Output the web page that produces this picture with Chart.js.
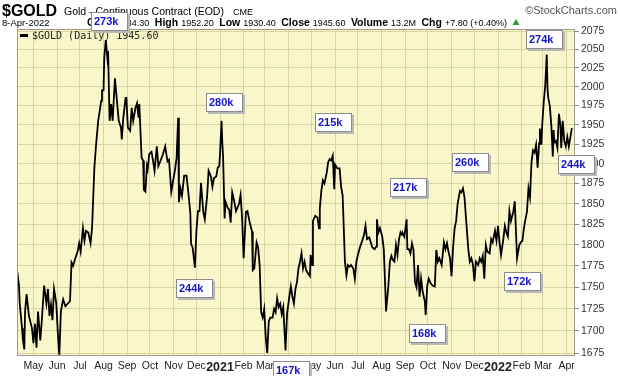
<!DOCTYPE html>
<html>
<head>
<meta charset="utf-8">
<script src="https://cdn.jsdelivr.net/npm/chart.js@4.4.0/dist/chart.umd.min.js"></script>
<style>
  html, body { margin: 0; padding: 0; background: #fff; }
  canvas { display: block; }
</style>
</head>
<body>
<canvas id="goldChart" width="620" height="376" style="width:620px;height:376px"></canvas>
<script>
// days since 1-Apr-2020 and daily close of gold futures
const tradeDays = [
  9, 11, 12, 15, 16, 18, 19, 21, 24, 28, 30, 32, 34, 36, 39, 41, 44, 47, 49, 51, 53, 55, 57, 60, 62, 64, 66, 69, 72, 76, 78,
  80, 82, 85, 88, 90, 92, 95, 97, 99, 102, 105, 107, 110, 112, 115, 119, 120, 122, 123, 125, 127, 128,
  130, 132, 134, 137, 140, 142, 145, 146, 148, 151, 152, 154, 157, 159, 161, 164, 166, 168, 169, 172, 174, 175, 177, 179,
  180, 182, 185, 187, 189, 192, 194, 197, 200, 203, 206, 208, 211, 214, 216, 218, 220, 221, 223, 225, 228, 231, 234, 236,
  237, 239, 242, 244, 246, 248, 250, 253, 255,
  258, 260, 263, 265, 267, 270, 272, 274, 275, 277, 278, 279, 281, 282, 285, 287, 289, 291, 293, 296, 300, 302, 304, 306,
  309, 311, 314, 317, 318, 320, 323, 325, 327, 329, 331, 333, 335, 337, 339, 341, 344, 346, 348, 350, 352, 354, 356, 358,
  361, 363, 366, 368, 370, 372, 374, 376, 378,
  380, 382, 384, 386, 388, 390, 393, 394, 396, 397, 400, 403, 405, 406, 408, 410, 412, 415, 417, 419, 421, 423, 425, 426,
  429, 432, 434, 436, 439, 441, 443, 445, 447, 450, 452, 454, 456, 459, 461, 464, 466, 468, 471, 473, 475, 478, 480, 481,
  483, 485, 488, 490, 492, 493, 496, 498, 500,
  502, 504, 506, 508, 510, 512, 514, 515, 517, 520, 521, 523, 525, 527, 529, 531, 533, 535, 537, 539, 541, 544, 545, 547,
  549, 552, 554, 557, 559, 561, 563, 566, 569, 571, 573, 575, 577, 579, 581, 583, 585, 587, 590, 592, 594, 596, 598, 601,
  603, 605, 607, 609, 611, 614, 616, 618, 620, 622, 624, 626, 629,
  631, 633, 636, 638, 640, 642, 644, 647, 649, 651, 653, 655, 657, 660, 662, 664, 665, 668, 670, 672, 674, 676, 678, 680,
  682, 684, 686, 688, 690, 692, 694, 695, 697, 698, 700, 702, 704, 705, 706, 708, 710, 712, 713, 714, 716, 718, 720, 722,
  723, 725, 727, 729, 731, 733, 735, 737
];
const closes = [
  1767, 1752, 1731, 1703, 1691, 1679, 1722, 1742, 1717, 1703, 1686, 1708, 1681, 1722, 1689, 1712, 1752, 1731, 1748, 1717, 1730, 1712, 1748, 1731, 1698, 1673, 1722, 1736, 1728, 1732, 1734,
  1779, 1775, 1784, 1792, 1802, 1792, 1820, 1805, 1817, 1815, 1802, 1821, 1895, 1921, 1955, 1981, 1995, 1995, 2039, 2063, 2039, 2048,
  1955, 1977, 1955, 2011, 1977, 1955, 1946, 1931, 1959, 1985, 1985, 1946, 1942, 1972, 1955, 1972, 1978, 1959, 1977, 1908, 1904, 1867, 1865, 1897,
  1893, 1912, 1915, 1904, 1891, 1922, 1897, 1904, 1912, 1922, 1903, 1905, 1865, 1882, 1893, 1908, 1959, 1852, 1869, 1860, 1885, 1885, 1858, 1838,
  1801, 1797, 1773, 1817, 1841, 1841, 1876, 1840, 1831,
  1859, 1891, 1884, 1871, 1882, 1884, 1895, 1897, 1913, 1955, 1926, 1909, 1832, 1853, 1845, 1843, 1827, 1864, 1856, 1841, 1850, 1861, 1832, 1784,
  1840, 1841, 1827, 1816, 1770, 1772, 1803, 1797, 1776, 1721, 1715, 1725, 1693, 1675, 1711, 1715, 1715, 1725, 1721, 1737, 1727, 1731, 1719, 1727,
  1678, 1719, 1739, 1751, 1739, 1731, 1748, 1756, 1772,
  1780, 1790, 1772, 1780, 1770, 1767, 1763, 1788, 1776, 1829, 1835, 1833, 1820, 1844, 1866, 1879, 1875, 1888, 1902, 1906, 1904, 1910, 1868, 1899,
  1894, 1894, 1871, 1860, 1780, 1764, 1776, 1774, 1776, 1772, 1760, 1780, 1788, 1798, 1803, 1812, 1823, 1807, 1809, 1803, 1797, 1795, 1798, 1831,
  1815, 1820, 1810, 1795, 1748, 1722, 1751, 1780, 1787,
  1782, 1780, 1800, 1788, 1807, 1815, 1812, 1814, 1810, 1831, 1795, 1795, 1790, 1802, 1794, 1756, 1750, 1776, 1739, 1760, 1745, 1733, 1718, 1751,
  1760, 1754, 1752, 1751, 1794, 1780, 1784, 1776, 1803, 1795, 1802, 1792, 1784, 1763, 1797, 1820, 1829, 1850, 1866, 1864, 1869, 1858, 1832, 1795,
  1780, 1784, 1777, 1757, 1780, 1776, 1784, 1780, 1787, 1760, 1800, 1792, 1790,
  1807, 1803, 1817, 1805, 1823, 1803, 1788, 1807, 1823, 1815, 1810, 1841, 1829, 1840, 1853, 1807, 1784, 1800, 1803, 1805, 1820, 1831, 1840, 1869,
  1858, 1902, 1917, 1914, 1924, 1895, 1926, 1945, 1924, 1949, 1979, 2001, 2043, 1998, 1985, 1975, 1949, 1909, 1943, 1927, 1929, 1920, 1964, 1949,
  1920, 1955, 1929, 1922, 1934, 1922, 1934, 1945.6
];

const monthLabels = ["May", "Jun", "Jul", "Aug", "Sep", "Oct", "Nov", "Dec", "2021", "Feb", "Mar", "Apr",
                     "May", "Jun", "Jul", "Aug", "Sep", "Oct", "Nov", "Dec", "2022", "Feb", "Mar", "Apr"];
const yTicks = [1675, 1700, 1725, 1750, 1775, 1800, 1825, 1850, 1875, 1900, 1925, 1950, 1975, 2000, 2025, 2050, 2075];

// volume call-outs (label, day, price of box centre)
const annLabels = ["273k", "280k", "215k", "217k", "260k", "274k", "244k", "244k", "168k", "172k", "167k"];
const annDays   = [130, 281, 424, 522, 604, 701, 743, 241, 547, 672, 369];
const annPrices = [2089, 1979, 1953, 1870, 1901, 2064, 1899, 1748, 1697, 1757, 1656];

const FONT = '"Liberation Sans", Arial, sans-serif';
const plotYellow = '#f9f7c9';
const gridTan = '#d8d4a4';

// first of each month as a day offset from 1-Apr-2020
const dayMs = 86400000;
const startUtc = Date.UTC(2020, 3, 1);
const monthStartDays = monthLabels.map((m, i) => Math.round((Date.UTC(2020, 4 + i, 1) - startUtc) / dayMs));

const backdrop = {
  id: 'backdrop',
  beforeDraw(chart) {
    const { ctx, chartArea: a } = chart;
    ctx.save();
    ctx.fillStyle = '#fff';
    ctx.fillRect(0, 0, chart.width, chart.height);
    ctx.fillStyle = plotYellow;
    ctx.fillRect(a.left, a.top, a.right - a.left, a.bottom - a.top);

    // header line 1
    ctx.textBaseline = 'alphabetic';
    ctx.fillStyle = '#000';
    ctx.font = 'bold 16px ' + FONT;
    ctx.fillText('$GOLD', 2, 16);
    ctx.font = '10.5px ' + FONT;
    ctx.fillText('Gold - Continuous Contract (EOD)', 64, 15);
    ctx.font = '9px ' + FONT;
    ctx.fillText('CME', 233, 15);
    ctx.fillStyle = '#555';
    ctx.font = '11px ' + FONT;
    ctx.textAlign = 'right';
    ctx.fillText('\u00a9StockCharts.com', 617, 14);
    ctx.textAlign = 'left';

    // header line 2
    ctx.fillStyle = '#000';
    ctx.font = '9.5px ' + FONT;
    ctx.fillText('8-Apr-2022', 2, 26);
    const parts = [
      ['Open', '1934.30'], ['High', '1952.20'], ['Low', '1930.40'], ['Close', '1945.60'],
      ['Volume', '13.2M'], ['Chg', '+7.80 (+0.40%)']
    ];
    let x = 87;
    parts.forEach(([label, val]) => {
      ctx.font = 'bold 10.5px ' + FONT;
      ctx.fillText(label, x, 26);
      x += ctx.measureText(label).width + 3;
      ctx.font = '9px ' + FONT;
      ctx.fillText(val, x, 26);
      x += ctx.measureText(val).width + 5.5;
    });
    ctx.fillStyle = '#2a9a2a';
    ctx.beginPath();
    ctx.moveTo(x, 25); ctx.lineTo(x + 7, 25); ctx.lineTo(x + 3.5, 19); ctx.closePath();
    ctx.fill();
    ctx.restore();
  },
  beforeDatasetsDraw(chart) {
    const { ctx, chartArea: a } = chart;
    ctx.save();
    ctx.fillStyle = '#000';
    ctx.fillRect(a.left + 3, a.top + 5, 8, 3);
    ctx.font = '10px "DejaVu Sans Mono", monospace';
    ctx.fillStyle = '#222';
    ctx.textBaseline = 'middle';
    ctx.fillText('$GOLD (Daily) 1945.60', a.left + 15, a.top + 7);
    ctx.restore();
  },
  afterDraw(chart) {
    const { ctx, chartArea: a, scales } = chart;
    ctx.save();
    ctx.strokeStyle = '#9a9a88';
    ctx.lineWidth = 1;
    ctx.strokeRect(a.left + 0.5, a.top + 0.5, a.right - a.left - 1, a.bottom - a.top - 1);

    ctx.font = 'bold 11px ' + FONT;
    ctx.textBaseline = 'middle';
    annLabels.forEach((lab, i) => {
      const cx = scales.x.getPixelForValue(annDays[i]);
      const cy = scales.y.getPixelForValue(annPrices[i]);
      const w = 37, h = 19;
      const l = Math.round(cx - w / 2), t = Math.round(cy - h / 2);
      ctx.fillStyle = '#b8b8b8';
      ctx.fillRect(l + 2, t + 2, w, h);
      ctx.fillStyle = '#fff';
      ctx.fillRect(l, t, w, h);
      ctx.strokeStyle = '#8c8c8c';
      ctx.strokeRect(l + 0.5, t + 0.5, w - 1, h - 1);
      ctx.fillStyle = '#1414c8';
      ctx.fillText(lab, l + 3, t + h / 2 + 0.5);
    });
    ctx.restore();
  }
};

const ctx = document.getElementById('goldChart').getContext('2d');

const goldChart = new Chart(ctx, {
  type: 'line',
  data: {
    datasets: [{
      label: '$GOLD (Daily)',
      data: tradeDays.map((d, i) => ({ x: d, y: closes[i] })),
      borderColor: '#000',
      borderWidth: 1.8,
      pointRadius: 0,
      tension: 0,
      fill: false
    }]
  },
  options: {
    responsive: false,
    devicePixelRatio: 1,
    animation: false,
    events: [],
    layout: { padding: { left: 17, top: 29, right: 0, bottom: 0 } },
    scales: {
      x: {
        type: 'linear',
        min: 8.4,
        max: 741.1,
        afterBuildTicks: (scale) => {
          scale.ticks = monthStartDays.map(v => ({ value: v }));
        },
        afterFit: (scale) => { scale.height = 20; },
        grid: { color: gridTan, lineWidth: 1, drawTicks: false },
        border: { display: false },
        ticks: {
          padding: 4,
          maxRotation: 0,
          autoSkip: false,
          color: '#222',
          callback: (value, index) => monthLabels[index],
          font: (c) => (c.index === 8 || c.index === 20)
            ? { family: FONT, size: 12.5, weight: 'bold' }
            : { family: FONT, size: 10.5 }
        }
      },
      y: {
        type: 'logarithmic',
        position: 'right',
        min: 1671.7,
        max: 2078.2,
        afterBuildTicks: (scale) => {
          scale.ticks = yTicks.map(v => ({ value: v }));
        },
        afterFit: (scale) => { scale.width = 45; },
        grid: { color: gridTan, lineWidth: 1, drawTicks: true, tickLength: 4, tickColor: '#888' },
        border: { display: false },
        ticks: {
          padding: 2,
          color: '#333',
          font: { family: FONT, size: 10.5 },
          callback: (value) => String(value)
        }
      }
    },
    plugins: {
      legend: { display: false },
      tooltip: { enabled: false },
      title: { display: false }
    }
  },
  plugins: [backdrop]
});
</script>
</body>
</html>
